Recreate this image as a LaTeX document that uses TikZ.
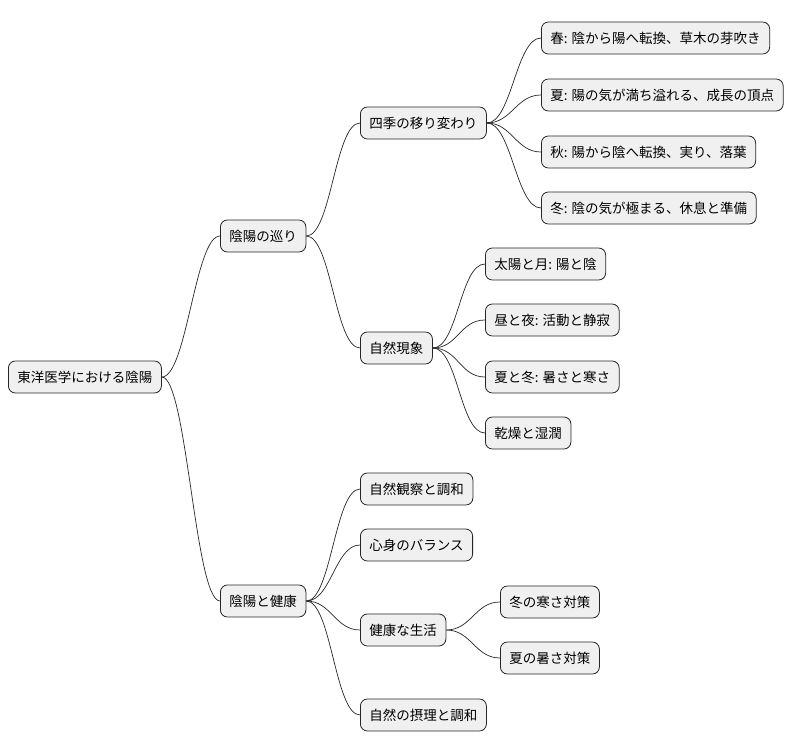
\documentclass[tikz,border=0pt]{standalone}
\usepackage{fontspec}
\setmainfont{Noto Sans CJK JP}
\begin{document}
\begin{tikzpicture}[x=1pt,y=-1pt,
  n/.style={draw=black!85,fill=black!6,rounded corners=7pt,line width=0.8pt,anchor=west,minimum height=32pt,inner xsep=9pt,font=\fontsize{13.5}{15}\selectfont},
  e/.style={line width=0.7pt,black!85}]
\useasboundingbox (0,0) rectangle (806,752);
\node[n] (r) at (8,377) {東洋医学における陰陽};
\node[n] (a) at (220,236) {陰陽の巡り};
\node[n] (b) at (220,601) {陰陽と健康};
\node[n] (a1) at (360,123) {四季の移り変わり};
\node[n] (s1) at (541,38) {春: 陰から陽へ転換、草木の芽吹き};
\node[n] (s2) at (541,95) {夏: 陽の気が満ち溢れる、成長の頂点};
\node[n] (s3) at (541,152) {秋: 陽から陰へ転換、実り、落葉};
\node[n] (s4) at (541,208) {冬: 陰の気が極まる、休息と準備};
\node[n] (a2) at (360,348) {自然現象};
\node[n] (p1) at (485,264) {太陽と月: 陽と陰};
\node[n] (p2) at (485,320) {昼と夜: 活動と静寂};
\node[n] (p3) at (485,377) {夏と冬: 暑さと寒さ};
\node[n] (p4) at (485,433) {乾燥と湿潤};
\node[n] (b1) at (360,489) {自然観察と調和};
\node[n] (b2) at (360,545) {心身のバランス};
\node[n] (b3) at (360,630) {健康な生活};
\node[n] (h1) at (500,602) {冬の寒さ対策};
\node[n] (h2) at (500,658) {夏の暑さ対策};
\node[n] (b4) at (360,715) {自然の摂理と調和};
\foreach \p/\c in {r/a,r/b,a/a1,a/a2,a1/s1,a1/s2,a1/s3,a1/s4,a2/p1,a2/p2,a2/p3,a2/p4,b/b1,b/b2,b/b3,b/b4,b3/h1,b3/h2}
  \draw[e] (\p.east) .. controls +(25,0) and +(-25,0) .. (\c.west);
\end{tikzpicture}
\end{document}
